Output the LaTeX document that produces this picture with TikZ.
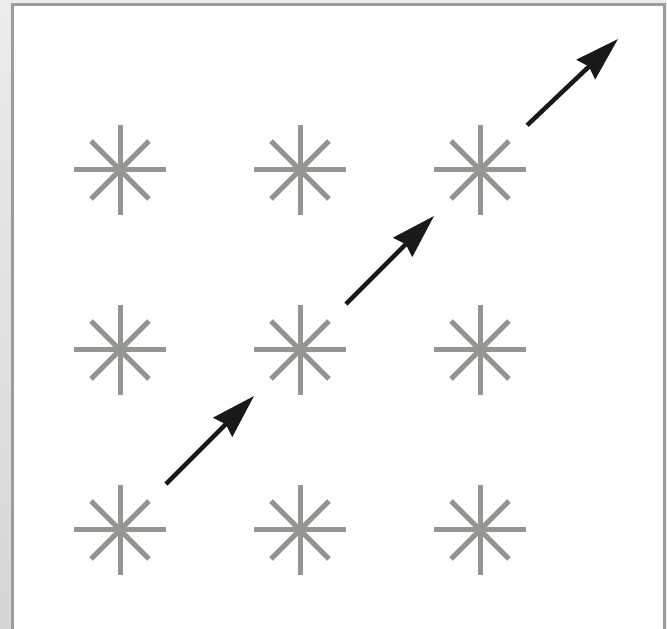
\documentclass[tikz,border=0pt]{standalone}
\usepackage{tikz}
\usetikzlibrary{arrows.meta}
\definecolor{etoileC}{RGB}{148,150,148}
\definecolor{cadreC}{RGB}{156,156,156}
\definecolor{fondC}{RGB}{236,236,236}
\tikzset{
  etoile/.style={circle, minimum size=2.6cm, inner sep=0pt, outer sep=0pt,
                 path picture={
                   \foreach \a/\r in {0/46,45/41,90/45,135/41,180/46,225/41,270/45,315/41}
                     \draw[etoileC, line width=1mm]
                       (path picture bounding box.center) -- ++(\a:\r);
                 }},
  arr/.style={-{Stealth[length=8.8mm, width=5.3mm, inset=0.8mm]}, line width=0.9mm, draw=black!90},
}
\begin{document}
\begin{tikzpicture}[x=0.2mm, y=-0.2mm]
  % cadre
  \useasboundingbox (0,0) rectangle (667,629);
  \shade[top color=fondC, bottom color=black!16] (0,0) rectangle (11,629);
  \fill[fondC] (11,0) rectangle (667,3);
  \fill[fondC] (666,3) rectangle (667,629);
  \fill[white] (14,6) rectangle (663,629);
  \fill[cadreC] (11,3) rectangle (14,629);
  \fill[cadreC] (11,3) rectangle (666,6);
  \fill[cadreC] (663,3) rectangle (666,629);
  % etoiles
  \foreach \i in {0,1,2}
    \foreach \j in {0,1,2}
      \node[etoile] (e\i\j) at (120+180*\i, 530-180*\j) {};
  \coordinate (fin) at (618,39);
  % fleches
  \draw[arr] (e00) -- (e11);
  \draw[arr] (e11) -- (e22);
  \draw[arr] (e22) -- (fin);
\end{tikzpicture}
\end{document}
